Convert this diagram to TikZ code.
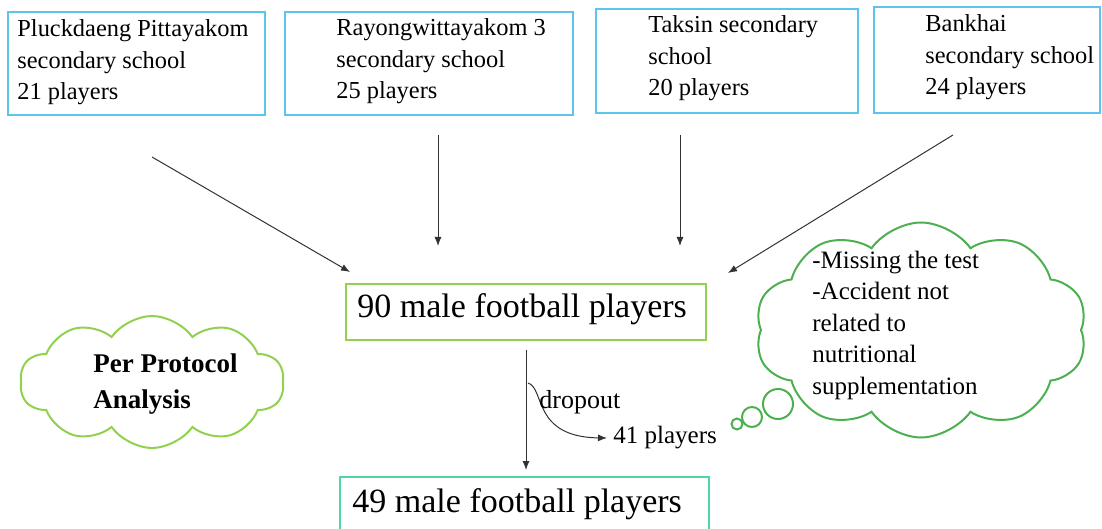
\documentclass[tikz,border=0pt]{standalone}
\usepackage{fontspec}
\setmainfont{Liberation Serif}
\usepackage{tikz}
\usetikzlibrary{shapes.symbols,arrows.meta}

\definecolor{boxcyan}{RGB}{91,197,235}
\definecolor{limegreen}{RGB}{146,208,80}
\definecolor{tealgreen}{RGB}{80,214,160}
\definecolor{cloudgreen}{RGB}{76,176,80}
\definecolor{arrowgray}{RGB}{50,50,50}

\begin{document}
\begin{tikzpicture}[x=0.5pt, y=-0.5pt,
    schoolbox/.style={draw=boxcyan, line width=1pt, rectangle, inner sep=0pt},
    schooltext/.style={anchor=base west, align=left, inner sep=0pt,
      font=\fontsize{12.2pt}{15.75pt}\selectfont},
    cloudtext/.style={anchor=base west, align=left, inner sep=0pt,
      font=\fontsize{12.5pt}{15.75pt}\selectfont},
    bigbox/.style={rectangle, line width=1pt, inner sep=0pt},
    bigtext/.style={anchor=base west, inner sep=0pt, font=\fontsize{17pt}{20pt}\selectfont},
    flow/.style={draw=arrowgray, line width=0.5pt, -{Latex[length=4.5pt,width=3.5pt]}},
    thought/.style={cloud, draw, line width=1pt, cloud puffs=10, cloud puff arc=110, inner sep=0pt}]
  \useasboundingbox (0,0) rectangle (1102,529);

  % school boxes (multi-line text sits on its last baseline)
  \node[schoolbox, minimum width=128.5pt, minimum height=51.5pt] (s1) at (136.5,63.5) {};
  \node[schoolbox, minimum width=144pt, minimum height=51.5pt] (s2) at (429,63.5) {};
  \node[schoolbox, minimum width=131pt, minimum height=52pt] (s3) at (727,61) {};
  \node[schoolbox, minimum width=113pt, minimum height=53pt] (s4) at (987,60) {};
  \node[schooltext] (t1) at (17,100) {Pluckdaeng Pittayakom\\secondary school\\21 players};
  \node[schooltext] (t2) at (336,99) {Rayongwittayakom 3\\secondary school\\25 players};
  \node[schooltext] (t3) at (648,96) {Taksin secondary\\school\\20 players};
  \node[schooltext] (t4) at (925,95) {Bankhai\\secondary school\\24 players};

  % main boxes
  \node[bigbox, draw=limegreen, minimum width=180pt, minimum height=28pt] (m90) at (526,312) {};
  \node[bigtext] (m90t) at (357,317) {90 male football players};
  \node[bigbox, draw=tealgreen, minimum width=184.5pt, minimum height=31pt] (m49) at (524.5,508) {};
  \node[bigtext] (m49t) at (352,512) {49 male football players};

  % arrow ends
  \coordinate (a1s) at (152,157);
  \coordinate (a1e) at (350,272);
  \coordinate (a2s) at (438,135);
  \coordinate (a2e) at (438,246);
  \coordinate (a3s) at (680,135);
  \coordinate (a3e) at (680,246);
  \coordinate (a4s) at (953,135);
  \coordinate (a4e) at (728,273);
  \coordinate (a5s) at (526,350);
  \coordinate (a5e) at (526,470);
  \coordinate (ds) at (528,383);
  \coordinate (de) at (607,438);

  \draw[flow] (a1s) -- (a1e);
  \draw[flow] (a2s) -- (a2e);
  \draw[flow] (a3s) -- (a3e);
  \draw[flow] (a4s) -- (a4e);
  \draw[flow] (a5s) -- (a5e);
  \draw[flow] (ds) .. controls (545,388) and (532,437) .. (de);
  \node[anchor=base west, inner sep=0pt, font=\fontsize{13pt}{15pt}\selectfont] (drop) at (539,408) {dropout};
  \node[anchor=base west, inner sep=0pt, font=\fontsize{12.5pt}{15pt}\selectfont] (n41) at (613,443) {41 players};

  % clouds
  \node[thought, draw=limegreen, minimum width=132pt, minimum height=66pt] (pp) at (152,382) {};
  \node[anchor=base west, align=left, inner sep=0pt,
    font=\bfseries\fontsize{13.5pt}{18pt}\selectfont] (ppt) at (93,408) {Per Protocol\\Analysis};
  \node[thought, draw=cloudgreen, minimum width=166pt, minimum height=107.5pt] (why) at (921,330) {};
  \node[cloudtext] (whyt) at (812,394) {-Missing the test\\-Accident not\\related to\\nutritional\\supplementation};
  \draw[cloudgreen, line width=1pt] (778,404) circle[radius=15];
  \draw[cloudgreen, line width=1pt] (752,417) circle[radius=10];
  \draw[cloudgreen, line width=1pt] (737,424) circle[radius=5.5];
\end{tikzpicture}
\end{document}
